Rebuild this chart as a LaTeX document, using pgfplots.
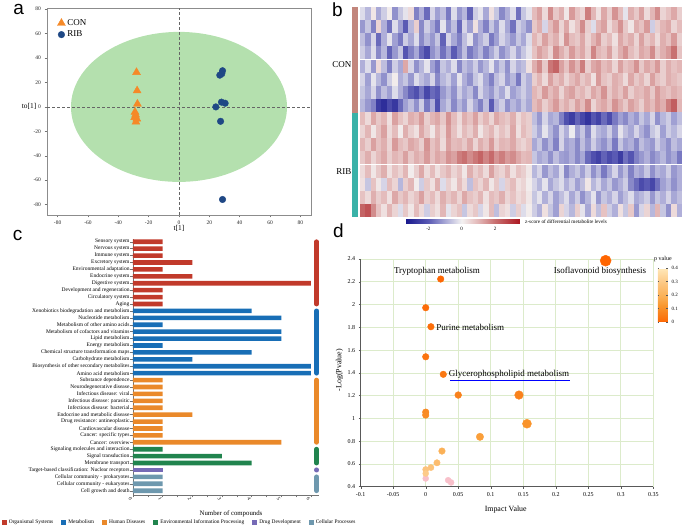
\documentclass[border=0pt]{standalone}
\usepackage{pgfplots}
\pgfplotsset{compat=1.18}
\usepackage{pgfplotstable}
\usepackage{fontspec}
\setmainfont{Liberation Serif}
\newfontfamily\sansf{Liberation Sans}
\newcommand{\fs}[1]{\fontsize{#1pt}{#1pt}\selectfont}
\definecolor{ellgreen}{RGB}{180,224,174}
\definecolor{conor}{RGB}{245,137,40}
\definecolor{ribblue}{RGB}{31,72,133}
\definecolor{osred}{RGB}{193,58,43}
\definecolor{metblue}{RGB}{24,110,182}
\definecolor{hdorange}{RGB}{234,137,42}
\definecolor{eipgreen}{RGB}{33,132,78}
\definecolor{ddpurple}{RGB}{118,106,182}
\definecolor{cpsteel}{RGB}{110,152,174}
\definecolor{consb}{RGB}{194,134,124}
\definecolor{ribsb}{RGB}{58,178,168}
\definecolor{gridgreen}{RGB}{220,235,203}
\definecolor{pinkpt}{RGB}{248,192,202}
\pgfplotsset{/pgf/number format/assume math mode=true}
\pgfdeclareplotmark{hcell}{\pgfpathrectangle{\pgfqpoint{-2.72pt}{-6.45pt}}{\pgfqpoint{5.44pt}{12.9pt}}\pgfusepathqfill}

% heatmap: 16 samples (rows, CON then RIB) x 60 metabolite columns, z-scores
\pgfplotstableread[header=false]{
-0.3 -0.8 0.2 -1.0 -0.5 0.1 -1.3 -0.6 -0.2 0.4 -1.5 -0.9 -1.8 -0.4 -1.1 -0.7 -1.6 -0.3 -1.2 -0.8 -1.9 -0.5 -0.2 -1.0 0.3 -0.6 -1.4 -0.9 -0.3 -1.7 -0.6 -0.2 0.9 1.3 0.4 1.6 0.7 1.1 0.2 1.4 0.8 0.5 1.8 1.0 0.3 1.2 0.6 1.5 0.9 -0.2 1.1 0.7 1.3 0.4 1.0 1.6 0.5 0.8 1.2 0.6
-1.2 -0.6 -1.5 0.5 -0.9 -1.7 -0.3 -1.1 -2.0 -0.8 0.6 -1.4 -0.5 -1.0 -1.6 -0.2 -1.3 -0.7 -1.8 -0.4 -1.1 0.3 -0.9 -1.5 -0.6 -1.2 -0.3 -1.0 -1.7 -0.5 -0.8 -1.3 0.7 1.1 -0.4 0.9 1.4 0.5 1.2 0.3 0.8 1.6 0.6 -0.3 1.0 1.3 0.4 0.9 1.5 0.7 0.2 1.1 0.8 1.4 -0.5 0.6 1.0 1.2 0.5 0.9
-0.7 -1.3 -0.4 -1.8 -0.9 -0.2 -1.1 -1.6 -0.5 -1.0 -0.3 -1.4 -0.8 -1.2 -0.6 -1.9 -0.4 -1.0 -1.5 -0.7 -0.2 -1.3 -0.9 -0.5 -1.6 -1.1 -0.4 -0.8 -1.2 -0.6 -1.0 -0.3 1.0 0.6 1.3 0.8 1.1 0.4 1.5 0.9 0.7 1.2 0.5 1.0 1.4 0.6 0.9 0.3 1.2 0.8 1.1 0.5 1.3 0.7 1.0 0.4 1.1 0.8 1.4 0.6
-0.5 -1.0 -0.3 -1.4 -0.8 -1.9 -1.2 -0.6 -2.1 -1.5 -1.0 -1.8 -2.3 -1.3 -0.9 -1.7 -1.1 -2.0 -1.4 -0.7 -1.6 -1.2 -0.8 -1.5 -1.0 -0.5 -1.3 -0.9 -0.4 -1.1 -0.6 -0.2 0.8 1.3 1.0 0.5 1.6 1.1 0.7 1.4 0.9 1.2 0.6 1.7 1.0 0.8 1.3 0.5 1.1 1.5 0.9 0.6 1.2 1.0 1.6 0.7 1.1 1.4 2.0 0.8
-0.9 -0.3 -1.2 0.4 -0.7 -1.5 -0.5 -1.0 1.2 -0.4 -1.3 -0.8 -0.2 -1.1 -1.6 -0.6 -0.9 -0.3 -1.4 -0.7 -1.0 -0.5 -1.2 -0.8 -0.2 -1.1 -0.6 -1.3 -0.4 -0.9 -0.7 0.3 1.1 1.6 0.7 1.9 2.2 1.3 0.8 1.5 1.0 1.8 0.6 1.2 1.4 0.9 1.1 0.5 1.3 0.8 1.0 1.5 0.7 1.2 0.9 1.4 0.6 1.1 0.8 1.0
-0.4 -1.1 -0.2 -0.8 -1.3 -0.5 0.1 -0.9 -0.6 -1.2 -0.3 -0.7 -1.0 -0.4 -1.4 -0.8 -0.5 -1.1 -0.2 -0.9 -1.3 -0.6 -0.3 -1.0 -1.5 -0.7 -0.4 -1.2 -0.8 -1.6 -0.5 -0.9 0.6 1.0 0.4 1.3 0.8 1.1 0.5 0.9 1.2 0.7 1.0 0.3 1.4 0.8 0.6 1.1 0.9 0.4 1.2 0.7 1.0 0.5 1.3 0.8 0.6 1.1 0.9 0.7
-0.6 -1.0 -0.4 -1.3 -0.7 -1.1 -0.3 -0.9 -1.4 -1.9 -2.2 -1.6 -2.4 -1.8 -2.0 -1.2 -0.8 -1.3 -0.5 -1.0 -0.7 -1.4 -0.4 -0.9 -1.2 -0.6 -1.0 -0.3 -1.1 -0.8 -0.5 -0.9 1.0 0.7 1.4 0.9 1.2 0.5 1.1 1.3 0.8 1.0 0.6 1.2 0.9 1.5 0.7 1.1 0.8 1.3 0.6 1.0 0.9 1.2 0.7 1.4 1.0 0.8 1.1 0.9
-0.8 -1.2 -1.5 -2.6 -2.9 -2.3 -2.7 -1.8 -1.1 -0.7 -1.3 -0.5 -1.6 -0.9 -2.2 -1.0 -0.6 -1.4 -0.8 -1.2 -0.4 -1.0 -1.5 -0.7 -2.0 -0.9 -0.5 -1.3 -0.8 -1.1 -0.6 -1.0 0.9 1.2 0.6 1.0 1.4 0.8 1.1 0.7 1.3 0.9 1.6 0.5 1.0 1.2 0.8 1.5 1.1 0.7 1.3 1.0 0.6 1.2 0.9 1.4 1.1 1.8 2.3 1.0
0.9 0.4 1.2 0.7 1.0 0.3 1.3 0.8 0.5 1.1 0.9 1.4 0.6 1.0 1.2 0.7 1.5 0.9 0.4 1.1 0.8 1.3 0.6 1.0 0.5 1.2 0.9 0.7 1.1 0.4 0.8 0.6 -0.7 -1.2 -0.4 -1.0 -0.8 -1.5 -2.2 -2.6 -1.9 -2.4 -2.8 -2.1 -2.5 -1.8 -2.3 -1.6 -1.1 -1.4 -0.9 -1.2 -0.6 -1.0 -0.4 -1.3 -0.8 -0.5 -1.1 -0.7
0.5 1.0 0.2 0.8 1.3 0.4 0.9 0.1 1.1 0.6 0.3 1.2 0.7 0.2 1.0 0.5 1.4 0.8 0.3 0.9 0.6 1.1 0.2 0.7 1.0 0.4 0.8 0.5 1.2 0.3 0.9 0.6 -0.5 -1.0 -0.2 -0.8 -1.3 -0.4 -0.9 -0.1 -1.1 -0.6 -1.4 -0.3 -0.8 -1.0 -0.5 -1.2 -0.2 -0.7 -1.0 -0.4 -0.9 -1.3 -0.6 -0.3 -1.1 -0.5 -0.8 -0.4
1.0 0.6 1.3 0.8 1.1 0.5 1.4 0.9 0.7 1.2 1.0 0.6 1.5 0.8 1.1 0.4 1.3 0.9 1.0 0.7 1.2 0.5 1.1 0.8 1.4 0.6 1.0 0.9 1.2 0.7 0.5 0.8 -1.0 -0.6 -1.3 -0.8 -1.5 -0.4 -1.1 -0.9 -1.4 -0.7 -1.2 -0.5 -1.0 -1.3 -0.8 -1.6 -0.6 -1.1 -0.9 -1.4 -0.7 -1.0 -1.2 -0.5 -0.9 -1.3 -0.7 -1.0
0.7 1.1 0.5 0.9 1.2 0.6 1.0 0.8 1.3 0.7 1.1 0.9 1.4 0.8 1.2 1.0 1.5 1.3 1.8 2.0 1.6 1.9 2.2 1.7 2.1 1.5 1.8 1.4 1.6 1.2 0.9 1.0 -0.6 -1.0 -0.8 -1.3 -0.7 -1.1 -1.2 -0.9 -1.4 -1.0 -1.8 -2.2 -2.5 -1.9 -2.3 -2.0 -2.6 -1.7 -2.1 -1.5 -1.2 -0.9 -1.4 -1.1 -0.8 -1.3 -1.0 -1.6
0.4 0.9 0.2 0.7 1.1 0.3 0.8 0.5 1.0 0.1 0.6 1.2 0.4 0.9 0.3 0.7 1.0 0.5 0.8 0.2 1.1 0.6 0.9 0.4 1.3 0.7 0.5 1.0 0.3 0.8 0.6 0.2 -0.8 -0.4 -1.2 -0.7 -1.0 -0.3 -1.4 -0.9 -0.6 -1.1 -0.5 -1.3 -0.8 -1.6 -1.0 -0.4 -1.2 -0.7 -1.5 -0.9 -1.1 -0.6 -1.3 -0.8 -1.0 -0.5 -1.2 -0.9
0.3 -0.6 0.8 0.2 -0.4 0.9 0.5 -0.8 0.6 1.0 0.1 -0.5 0.7 0.3 1.1 -0.3 0.6 0.2 0.9 0.4 -0.7 0.8 0.5 1.0 0.2 0.7 -0.4 0.6 0.9 0.3 0.5 0.1 -0.4 -0.8 -0.2 -1.0 -0.6 -0.3 -0.9 -0.5 -1.1 -0.7 0.2 -0.8 -0.4 -1.0 -0.6 -1.2 -0.9 -0.5 -1.4 -1.8 -2.3 -2.0 -2.4 -1.7 -1.1 -0.8 -1.3 -0.9
0.8 0.4 1.1 0.6 0.9 0.3 1.2 0.7 1.0 0.5 0.8 1.3 0.6 0.9 0.4 1.1 0.7 1.0 0.5 1.2 0.8 0.6 1.0 0.3 0.9 0.7 1.1 0.5 0.8 0.4 0.6 0.2 -0.6 -0.2 -0.9 -0.4 -1.1 -0.7 -0.3 -1.0 -0.5 -1.3 -0.8 -0.2 -1.2 -0.6 -0.9 -0.4 -1.1 -0.7 -0.3 -1.0 -0.8 -0.5 -1.2 -0.6 -0.9 -0.4 -1.0 -0.7
2.2 2.5 1.6 0.8 0.3 1.0 0.5 -0.3 0.7 0.2 0.9 0.4 -0.5 0.6 0.3 1.0 -0.2 0.5 0.8 -0.6 0.4 0.7 -0.4 0.2 0.9 -0.7 0.5 0.3 -0.5 0.6 -0.3 0.1 -0.5 -0.9 0.3 -0.6 -1.1 0.5 -0.4 -0.8 0.6 -0.2 -1.0 0.4 -0.7 0.8 -0.5 -0.9 0.3 -0.6 0.7 -1.2 -0.4 0.5 -0.8 1.0 -0.6 -1.3 0.4 -0.9
}\heat

\begin{document}
\begin{tikzpicture}
\path[use as bounding box] (0pt,0pt) rectangle (683pt,526pt);

%================ panel a ================
\begin{axis}[at={(47pt,311pt)}, anchor=south west, scale only axis,
  width=264pt, height=207pt,
  xmin=-87, xmax=87, ymin=-88.5, ymax=81,
  xtick={-80,-60,-40,-20,0,20,40,60,80},
  ytick={-80,-60,-40,-20,0,20,40,60,80},
  tick pos=left, tick align=outside, major tick length=2.5pt,
  axis line style={draw=black!45, line width=0.5pt},
  tick style={draw=black!55, line width=0.4pt},
  ticklabel style={font=\fs{5.5}, text=black!85},
  legend style={at={(0.035,0.96)}, anchor=north west, draw=none, fill=none,
    font=\fs{9}, inner sep=1pt, row sep=0pt},
  legend cell align=left]
\fill[ellgreen] (axis cs:0,0) ellipse [x radius=108pt, y radius=75pt];
\draw[densely dashed, black!60, line width=0.5pt] (axis cs:0,-88.5) -- (axis cs:0,81);
\draw[densely dashed, black!60, line width=0.5pt] (axis cs:-87,0) -- (axis cs:87,0);
\addplot[only marks, mark=triangle*, mark size=4.6pt, color=conor]
  coordinates {(-28,28.3) (-27.6,13.3) (-27.4,2.4) (-29,-4.2) (-28.6,-6.5) (-29.2,-8.5) (-27.8,-9.8) (-28.4,-12.3)};
\addlegendentry{CON}
\addplot[only marks, mark=*, mark size=3.3pt, color=ribblue]
  coordinates {(28.7,29.6) (28.2,27.2) (26.9,26) (28,3.9) (30.4,3) (24.3,0) (27.4,-11.8) (28.7,-75.8)};
\addlegendentry{RIB}
\end{axis}
\node[font=\fs{7.4}] at (179pt,297.5pt) {t[1]};
\node[font=\fs{7.4}, anchor=east, inner sep=0pt] at (36.5pt,419.3pt) {to[1]};

%================ panel b ================
\begin{axis}[at={(360pt,309pt)}, anchor=south west, scale only axis,
  width=322pt, height=210pt, hide axis,
  xmin=-0.5, xmax=59.5, ymin=-0.5, ymax=15.5, y dir=reverse,
  colormap={zmap}{rgb255(0pt)=(22,22,140); rgb255(14pt)=(90,90,180); rgb255(24pt)=(168,168,214); rgb255(34pt)=(244,242,242); rgb255(44pt)=(226,182,182); rgb255(54pt)=(200,112,112); rgb255(69pt)=(172,22,32)},
  point meta min=-3.4, point meta max=3.5,
  colorbar horizontal,
  colorbar style={at={(0.1398,-0.0143)}, anchor=north west, scale only axis,
    width=115pt, height=4pt, xtick={-2,0,2},
    xticklabel style={font=\fs{5}}, major tick length=0pt,
    axis line style={draw=none}}]
\pgfplotsinvokeforeach{0,...,59}{
  \addplot[scatter, only marks, mark=hcell, point meta=explicit,
    scatter/use mapped color={draw=none, fill=mapped color}]
    table[x expr=#1, y expr=\coordindex, meta index=#1] {\heat};
}
\end{axis}
\fill[consb] (352pt,519pt) rectangle (358pt,413pt);
\fill[ribsb] (352pt,413pt) rectangle (358pt,309pt);
\node[font=\fs{9}, anchor=east, inner sep=0pt] at (351.5pt,461pt) {CON};
\node[font=\fs{9}, anchor=east, inner sep=0pt] at (351.5pt,354.3pt) {RIB};
\node[font=\fs{5.2}, anchor=west, inner sep=0pt] at (525pt,304pt) {z-score of differential metabolite levels};

%================ panel c ================
\begin{axis}[at={(133pt,31pt)}, anchor=south west, scale only axis,
  width=186pt, height=256pt,
  xmin=0, xmax=6.27, ymin=0.38, ymax=37.4,
  axis x line*=bottom, axis y line*=left,
  axis line style={draw=black!55, line width=0.5pt},
  tick style={draw=black!55, line width=0.4pt},
  tick align=outside, major tick length=2.5pt, minor tick length=2.5pt,
  xtick={0,1,2,3,4,5,6}, minor xtick={0.5,1.5,2.5,3.5,4.5,5.5},
  ytick={1,...,37},
  yticklabels={Cell growth and death, Cellular community - eukaryotes, Cellular community - prokaryotes, Target-based classification: Nuclear receptors, Membrane transport, Signal transduction, Signaling molecules and interaction, Cancer: overview, Cancer: specific types, Cardiovascular disease, Drug resistance: antineoplastic, Endocrine and metabolic disease, Infectious disease: bacterial, Infectious disease: parasitic, Infectious disease: viral, Neurodegenerative disease, Substance dependence, Amino acid metabolism, Biosynthesis of other secondary metabolites, Carbohydrate metabolism, Chemical structure transformation maps, Energy metabolism, Lipid metabolism, Metabolism of cofactors and vitamins, Metabolism of other amino acids, Nucleotide metabolism, Xenobiotics biodegradation and metabolism, Aging, Circulatory system, Development and regeneration, Digestive system, Endocrine system, Environmental adaptation, Excretory system, Immune system, Nervous system, Sensory system},
  yticklabel style={font=\fs{5.5}, inner sep=0.8pt},
  xticklabel style={font=\fs{5}, rotate=-60, anchor=center, yshift=-3pt},
  xlabel={Number of compounds},
  xlabel style={font=\fs{6.8}, at={(axis description cs:0.527,-0.074)}, anchor=center},
  clip=false, legend columns=6,
  legend style={at={(axis description cs:-0.706,-0.1055)}, anchor=west, draw=none, fill=none,
    font=\fs{5.4}, inner sep=0pt, /tikz/every even column/.append style={column sep=6pt}},
  legend cell align=left,
  legend image code/.code={\draw[#1, draw=none] (0pt,-2.5pt) rectangle (5pt,2.5pt);}]
\addplot[xbar, bar width=4.6pt, bar shift=0pt, fill=osred, draw=none]
  coordinates {(1,37) (1,36) (1,35) (2,34) (1,33) (2,32) (6,31) (1,30) (1,29) (1,28)};
\addlegendentry{Organismal Systems}
\addplot[xbar, bar width=4.6pt, bar shift=0pt, fill=metblue, draw=none]
  coordinates {(4,27) (5,26) (1,25) (5,24) (5,23) (1,22) (4,21) (2,20) (6,19) (6,18)};
\addlegendentry{Metabolism}
\addplot[xbar, bar width=4.6pt, bar shift=0pt, fill=hdorange, draw=none]
  coordinates {(1,17) (1,16) (1,15) (1,14) (1,13) (2,12) (1,11) (1,10) (1,9) (5,8)};
\addlegendentry{Human Diseases}
\addplot[xbar, bar width=4.6pt, bar shift=0pt, fill=eipgreen, draw=none]
  coordinates {(1,7) (3,6) (4,5)};
\addlegendentry{Environmental Information Processing}
\addplot[xbar, bar width=4.6pt, bar shift=0pt, fill=ddpurple, draw=none]
  coordinates {(1,4)};
\addlegendentry{Drug Development}
\addplot[xbar, bar width=4.6pt, bar shift=0pt, fill=cpsteel, draw=none]
  coordinates {(1,3) (1,2) (1,1)};
\addlegendentry{Cellular Processes}
\addplot[forget plot, mark=none, draw=osred, line width=4.8pt, line cap=round] coordinates {(6.19,28) (6.19,37)};
\addplot[forget plot, mark=none, draw=metblue, line width=4.8pt, line cap=round] coordinates {(6.19,18) (6.19,27)};
\addplot[forget plot, mark=none, draw=hdorange, line width=4.8pt, line cap=round] coordinates {(6.19,8) (6.19,17)};
\addplot[forget plot, mark=none, draw=eipgreen, line width=4.8pt, line cap=round] coordinates {(6.19,5) (6.19,7)};
\addplot[forget plot, mark=none, draw=ddpurple, line width=4.8pt, line cap=round] coordinates {(6.19,3.98) (6.19,4.02)};
\addplot[forget plot, mark=none, draw=cpsteel, line width=4.8pt, line cap=round] coordinates {(6.19,1) (6.19,3)};
\end{axis}

%================ panel d ================
\begin{axis}[at={(360.7pt,39.3pt)}, anchor=south west, scale only axis,
  width=292.6pt, height=227.7pt,
  xmin=-0.1, xmax=0.35, ymin=0.4, ymax=2.4,
  xtick={-0.1,-0.05,0,0.05,0.1,0.15,0.2,0.25,0.3,0.35},
  xticklabels={-0.1,-0.05,0,0.05,0.1,0.15,0.2,0.25,0.3,0.35},
  ytick={0.4,0.6,0.8,1,1.2,1.4,1.6,1.8,2,2.2,2.4},
  yticklabels={0.4,0.6,0.8,1,1.2,1.4,1.6,1.8,2,2.2,2.4},
  grid=major, grid style={draw=gridgreen, line width=0.6pt},
  axis x line*=bottom, axis y line*=left,
  axis line style={draw=black!65, line width=0.5pt},
  tick style={draw=black!65, line width=0.4pt},
  tick align=outside, major tick length=2pt,
  ticklabel style={font=\fs{6}},
  xlabel={Impact Value}, ylabel={-Log(Pvalue)},
  xlabel style={font=\fs{7.9}, at={(axis description cs:0.4956,-0.101)}, anchor=center},
  ylabel style={font=\fs{7.9}, at={(axis description cs:-0.0725,0.5125)}, anchor=center},
  clip=false,
  colormap={pmap}{rgb255(0pt)=(255,45,0); rgb255(0.3pt)=(255,100,0); rgb255(1pt)=(252,108,8); rgb255(6pt)=(249,128,26); rgb255(12pt)=(249,150,45); rgb255(19pt)=(251,176,85); rgb255(28pt)=(252,196,125); rgb255(40pt)=(255,232,185)},
  point meta min=0, point meta max=0.4,
  colorbar,
  colorbar style={at={(1.016,0.9605)}, anchor=north west, scale only axis,
    width=10pt, height=54pt,
    ytick={0,0.1,0.2,0.3,0.4}, yticklabels={0,0.1,0.2,0.3,0.4},
    yticklabel style={font=\fs{5}}, major tick length=1.5pt,
    axis line style={draw=none}, title={p value},
    title style={font=\fs{6}, yshift=-3pt}}]
\addplot[forget plot, only marks, mark=*, mark size=3pt, draw=pinkpt, fill=pinkpt]
  coordinates {(0,0.472) (0.0345,0.457) (0.039,0.437)};
\addplot[scatter, only marks, mark=*, point meta=explicit,
  scatter/use mapped color={draw=mapped color, fill=mapped color},
  visualization depends on={value \thisrow{r}\as\myr},
  scatter/@pre marker code/.append style={/tikz/mark size=\myr pt}]
  table[x=x, y=y, meta=p] {
x y p r
0.2767 2.385 0.004 5.5
0.023 2.224 0.006 3.3
0.000 1.972 0.011 3.3
0.008 1.805 0.016 3.3
0.000 1.541 0.029 3.3
0.027 1.387 0.041 3.3
0.050 1.205 0.062 3.4
0.1434 1.205 0.062 4.3
0.000 1.055 0.088 3.3
0.000 1.029 0.094 3.3
0.1557 0.953 0.111 4.5
0.0834 0.838 0.145 3.7
0.025 0.713 0.194 3.3
0.0173 0.610 0.245 3.2
0.008 0.568 0.270 3.1
0.000 0.551 0.281 3.1
0.000 0.516 0.305 3.0
};
\node[font=\fs{9}] at (axis cs:0.268,2.288) {Isoflavonoid biosynthesis};
\node[font=\fs{9}] at (axis cs:0.0173,2.288) {Tryptophan metabolism};
\node[font=\fs{9}, anchor=west, inner sep=0pt] at (axis cs:0.0162,1.803) {Purine metabolism};
\node[font=\fs{9}, anchor=west, inner sep=0pt] at (axis cs:0.0353,1.389) {Glycerophospholipid metabolism};
\draw[blue, line width=1pt] (axis cs:0.0373,1.337) -- (axis cs:0.2218,1.337);
\end{axis}

%================ panel letters ================
\node[font=\sansf\fs{19}] at (18.7pt,516.5pt) {a};
\node[font=\sansf\fs{19}] at (337.5pt,516.5pt) {b};
\node[font=\sansf\fs{19}] at (17.5pt,290.2pt) {c};
\node[font=\sansf\fs{19}] at (338.5pt,295pt) {d};
\end{tikzpicture}
\end{document}
